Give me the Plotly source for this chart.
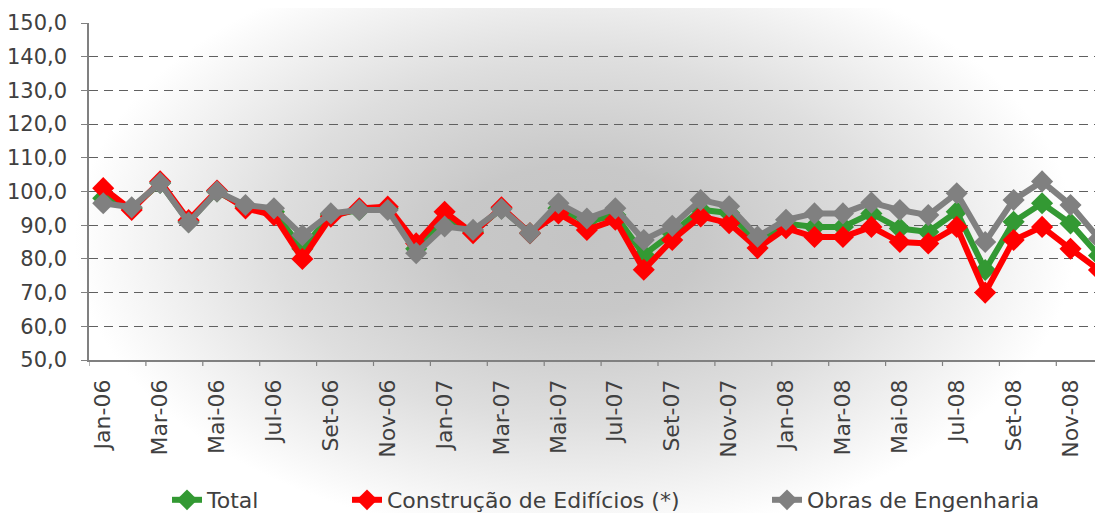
import plotly.graph_objects as go
import urllib.parse

months = ["Jan", "Fev", "Mar", "Abr", "Mai", "Jun", "Jul", "Ago", "Set", "Out", "Nov", "Dez"]
years = ["06", "07", "08"]
categories = [f"{m}-{y}" for y in years for m in months]

total = [98, 95, 102.5, 91, 100, 95.5, 94, 83, 93, 94.5, 95, 83,
         91.5, 88, 95, 87.6, 95, 91, 93, 81.2, 87.6, 94.6, 93.6, 85,
         90.5, 89.5, 89.5, 93.5, 89, 88, 94, 76.7, 91, 96.5, 90.5, 81]
construcao = [101, 94.5, 103, 91.5, 100.3, 95, 93, 80, 92.5, 95, 95.5, 84.6,
              94, 87.6, 95.3, 87.6, 93.5, 88.6, 91.6, 76.8, 85.6, 92.6, 90.6, 83.2,
              89.1, 86.5, 86.5, 89.5, 85, 84.6, 89.5, 70, 85.6, 89.5, 83, 76.7]
obras = [96.5, 95.3, 102.5, 90.8, 100, 96, 95, 87, 93.5, 94.5, 94.5, 81.7,
         89.6, 88.6, 94.8, 87.6, 96.5, 92, 95, 85.6, 89.8, 97.5, 95.6, 86.6,
         91.6, 93.5, 93.5, 96.7, 94.5, 93, 99.5, 85, 97.5, 103, 96, 86]

series_names = ["Total", "Construção de Edifícios (*)", "Obras de Engenharia"]
series_values = [total, construcao, obras]
series_colors = ["#339933", "#FF0000", "#808080"]
legend_ids = ["legend", "legend2", "legend3"]

y_ticks = [50, 60, 70, 80, 90, 100, 110, 120, 130, 140, 150]

xs = list(range(len(categories)))
label_idx = xs[::2]

# the page body has an 8px margin, so the figure is laid out 8px in from the window
OFF = 8
W, H = 1103 - OFF, 513 - OFF
ML, MT = 89 - OFF, 23 - OFF
PB = 360 - OFF
MB = H - PB
PW = W - ML
PH = PB - MT
FONT = "DejaVu Sans, Verdana, sans-serif"

fig = go.Figure()
for name, vals, col, lg in zip(series_names, series_values, series_colors, legend_ids):
    fig.add_trace(go.Scatter(
        x=xs, y=vals, name=name, mode="lines+markers",
        line=dict(color=col, width=6),
        marker=dict(symbol="diamond", size=17, color=col),
        cliponaxis=False, legend=lg,
    ))

font_col = "#404040"
grad_svg = (
    f"<svg xmlns='http://www.w3.org/2000/svg' width='{W}' height='{H}' "
    f"viewBox='{OFF} {OFF} {W} {H}' preserveAspectRatio='none'>"
    "<defs><radialGradient id='g' gradientUnits='userSpaceOnUse' cx='575' cy='240' r='500' "
    "gradientTransform='translate(575,240) scale(1,0.6) translate(-575,-240)'>"
    "<stop offset='0' stop-color='#c4c4c4'/>"
    "<stop offset='0.25' stop-color='#c8c8c8'/>"
    "<stop offset='0.6' stop-color='#dedede'/>"
    "<stop offset='1' stop-color='#ffffff'/>"
    "</radialGradient></defs>"
    "<rect x='0' y='0' width='1200' height='600' fill='#ffffff'/>"
    "<rect x='0' y='0' width='1200' height='600' fill='url(#g)'/></svg>"
)
src = "data:image/svg+xml;charset=utf-8," + urllib.parse.quote(grad_svg)

fig.add_layout_image(dict(
    source=src, xref="paper", yref="paper",
    x=-ML / PW, y=1 + MT / PH, sizex=W / PW, sizey=H / PH,
    xanchor="left", yanchor="top", sizing="stretch", layer="below",
))

# category-boundary tick marks on the x axis
shapes = []
for i in label_idx:
    shapes.append(dict(type="line", xref="x", yref="paper", x0=i - 0.5, x1=i - 0.5,
                       y0=0, y1=-6 / PH, line=dict(color="#808080", width=1.2)))

leg_common = dict(orientation="h", yanchor="middle", y=-(500 - OFF - PB) / PH,
                  xanchor="left", bgcolor="rgba(0,0,0,0)",
                  font=dict(family=FONT, size=22, color=font_col),
                  tracegroupgap=0)
# legend boxes placed so each label starts where the reference label starts
leg_x = [(207 - 40 - OFF - ML) / PW, (387 - 40 - OFF - ML) / PW, (807 - 40 - OFF - ML) / PW]

fig.update_layout(
    width=W, height=H,
    margin=dict(l=ML, r=0, t=MT, b=MB, pad=0, autoexpand=False),
    paper_bgcolor="#ffffff", plot_bgcolor="rgba(0,0,0,0)",
    font=dict(family=FONT, size=22, color=font_col),
    separators=",.",
    shapes=shapes,
    showlegend=True,
    legend=dict(x=leg_x[0], **leg_common),
    legend2=dict(x=leg_x[1], **leg_common),
    legend3=dict(x=leg_x[2], **leg_common),
    xaxis=dict(
        range=[-0.5, -0.5 + (1103 - 89) / 28.45], tickmode="array", tickvals=label_idx,
        ticktext=[categories[i] for i in label_idx], tickangle=-90,
        ticks="", showgrid=False, zeroline=False, automargin=False,
        showline=True, linecolor="#808080", linewidth=1.5,
        tickfont=dict(family=FONT, size=22, color=font_col), ticklabelstandoff=9,
    ),
    yaxis=dict(
        range=[50, 150], tickmode="array", tickvals=y_ticks, tickformat=".1f",
        ticks="outside", ticklen=6, tickcolor="#808080", tickwidth=1.2,
        showgrid=True, gridcolor="#606060", gridwidth=1, griddash="9px,6px",
        zeroline=False, showline=True, linecolor="#808080", linewidth=1.5, automargin=False,
        tickfont=dict(family=FONT, size=21, color=font_col), ticklabelstandoff=10,
    ),
)

fig.write_html("out.html")
